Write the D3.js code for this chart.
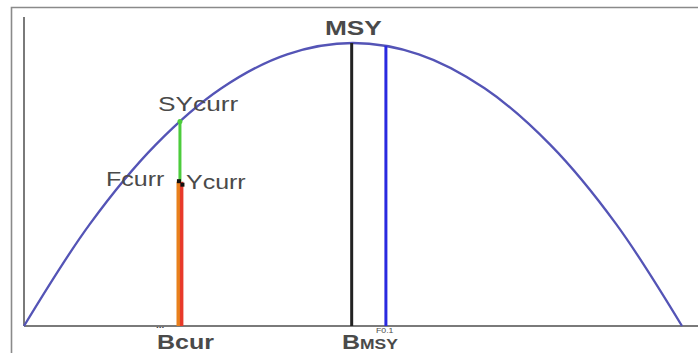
<!DOCTYPE html>
<html>
<head>
<meta charset="utf-8">
<script src="https://cdn.jsdelivr.net/npm/d3@7"></script>
<style>
  body { margin: 0; background: #fff; }
  text { font-family: "Liberation Sans", Arial, sans-serif; fill: #4a4a4a; }
</style>
</head>
<body>
<div id="chart"></div>
<script>
// Surplus production curve (biomass vs yield, % of max)
var biomass = [0, 10, 20, 30, 40, 50, 60, 70, 80, 90, 100];
var yieldPts = [0, 36, 64, 84, 96, 100, 96, 84, 64, 36, 0];

// Reference points
var bCur = 23.7, sYcurr = 72.3, yCurr = 51;
var bMsy = 49.8, msy = 100;
var bF01 = 55, yF01 = 99;

// Chart size
var width = 698, height = 353;
var margin = { top: 43, right: 16, bottom: 27, left: 24 };

var svg = d3.select("#chart").append("svg")
    .attr("width", width)
    .attr("height", height);

// Set ranges
var x = d3.scaleLinear()
    .domain([0, 100])
    .range([margin.left, width - margin.right]);
var y = d3.scaleLinear()
    .domain([0, 100])
    .range([height - margin.bottom, margin.top]);

// Outer frame
svg.append("path")
    .attr("d", "M11.5," + height + "V7.5H" + width)
    .attr("fill", "none")
    .attr("stroke", "#8a8a8a")
    .attr("stroke-width", 1.6);

// Axes
svg.append("line")
    .attr("x1", x(0)).attr("x2", x(0))
    .attr("y1", 17).attr("y2", y(0))
    .attr("stroke", "#7a7a7a").attr("stroke-width", 2);
svg.append("line")
    .attr("x1", x(0)).attr("x2", width)
    .attr("y1", y(0)).attr("y2", y(0))
    .attr("stroke", "#7a7a7a").attr("stroke-width", 2);

// Production curve
var line = d3.line()
    .x(function (d, i) { return x(biomass[i]); })
    .y(function (d) { return y(d); })
    .curve(d3.curveCatmullRom);

svg.append("path")
    .datum(yieldPts)
    .attr("d", line)
    .attr("fill", "none")
    .attr("stroke", "#5454b6")
    .attr("stroke-width", 2.3);

// Vertical reference lines
function vline(xv, y0, y1, color, w, dx) {
    svg.append("line")
        .attr("x1", x(xv) + (dx || 0)).attr("x2", x(xv) + (dx || 0))
        .attr("y1", y(y0)).attr("y2", y(y1))
        .attr("stroke", color)
        .attr("stroke-width", w);
}

vline(bMsy, 0, msy, "#222", 3);
vline(bF01, 0, yF01, "#2a2ae0", 3);
vline(bCur, yCurr, sYcurr, "#4ccc3c", 3);
vline(bCur, 0, yCurr, "#e8801c", 3.5, -1.7);
vline(bCur, 0, yCurr, "#e83a2a", 3.5, 1.7);

// Green dot at the top of SYcurr
svg.append("circle")
    .attr("cx", x(bCur)).attr("cy", y(sYcurr))
    .attr("r", 2.5).attr("fill", "#4ccc3c");

// Black markers at Fcurr / Ycurr
svg.append("rect")
    .attr("x", x(bCur) - 3).attr("y", y(yCurr) - 2.5)
    .attr("width", 4).attr("height", 4).attr("fill", "#111");
svg.append("rect")
    .attr("x", x(bCur) + 0.5).attr("y", y(yCurr) + 1)
    .attr("width", 4).attr("height", 4).attr("fill", "#111");

// Labels (horizontally stretched like the source picture)
function label(txt, px, py, size, bold) {
    return svg.append("text")
        .attr("transform", "translate(" + px + "," + py + ") scale(1.25,1)")
        .style("font-size", size + "px")
        .style("font-weight", bold ? "bold" : "normal")
        .text(txt);
}

label("SYcurr", 158, 111, 21);
label("Fcurr", 106, 186, 20);
label("Ycurr", 186, 189, 20);
label("MSY", 325, 35, 21, true);
label("Bcur", 157, 349, 20, true);

var bm = label("B", 342, 349, 20, true);
bm.append("tspan").style("font-size", "14px").text("MSY");

label("F0.1", 376, 333, 7);
label("...", 156, 328, 8, true);
</script>
</body>
</html>
